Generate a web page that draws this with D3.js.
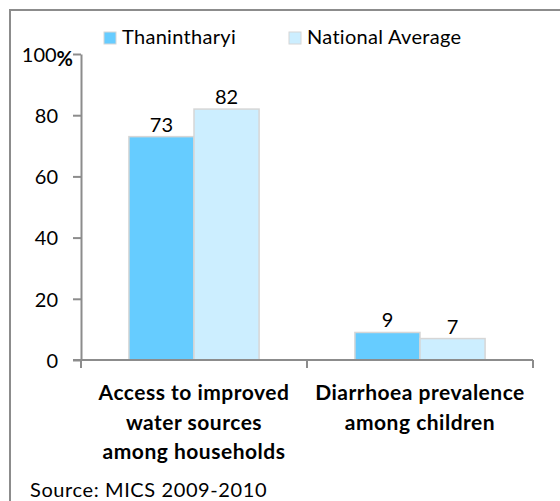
<!DOCTYPE html>
<html>
<head>
  <meta charset="UTF-8">
  <style>
    body {
        margin: 0;
        background: #fff;
        font-family: Lato, "Open Sans", sans-serif;
    }
    .axis path, .axis line {
        stroke: #8c8c8c;
        stroke-width: 2px;
    }
    .axis text {
        font-family: Lato, sans-serif;
        font-size: 20px;
        fill: #000;
    }
    .cat {
        font-size: 21px;
        font-weight: bold;
        letter-spacing: 0.5px;
    }
  </style>
</head>
<body>
<svg width="560" height="501"></svg>

<script src="https://d3js.org/d3.v7.min.js"></script>
<script>

// data
const categories = ["Access to improved water sources among households", "Diarrhoea prevalence among children"];
const catLines = [["Access to improved", "water sources", "among households"], ["Diarrhoea prevalence", "among children"]];
const seriesNames = ["Thanintharyi", "National Average"];
const thanintharyi = [73, 9];
const nationalAvg = [82, 7];
const yTicks = [0, 20, 40, 60, 80, 100];
const colors = ["#66ccff", "#cceeff"];

let margin = {left: 81, right: 27, top: 54, bottom: 141},
  width = 560 - margin.left - margin.right,
  height = 501 - margin.top - margin.bottom;

let svg = d3.select("svg");

// outer frame (runs off the right and bottom edge)
svg.append("rect")
  .attr("x", 10).attr("y", 10)
  .attr("width", 560).attr("height", 520)
  .attr("fill", "none")
  .attr("stroke", "#8c8c8c")
  .attr("stroke-width", 2);

let g = svg.append("g")
  .attr("transform", "translate(" + margin.left + "," + margin.top + ")");

let x0 = d3.scaleBand()
  .domain(categories)
  .range([0, width])
  .paddingInner(0.424)
  .paddingOuter(0.212);

let x1 = d3.scaleBand()
  .domain(seriesNames)
  .range([0, x0.bandwidth()]);

let y = d3.scaleLinear()
  .domain([0, 100])
  .range([height, 0]);

let rows = categories.map((c, i) => ({cat: c, vals: [thanintharyi[i], nationalAvg[i]]}));

// bars
let groups = g.selectAll(".grp")
  .data(rows)
  .join("g")
  .attr("transform", d => "translate(" + x0(d.cat) + ",0)");

groups.selectAll("rect")
  .data(d => d.vals.map((v, j) => ({name: seriesNames[j], v: v, j: j})))
  .join("rect")
    .attr("x", d => x1(d.name))
    .attr("y", d => y(d.v))
    .attr("width", x1.bandwidth())
    .attr("height", d => y(0) - y(d.v))
    .attr("fill", d => colors[d.j])
    .attr("stroke", "#d6d6d6")
    .attr("stroke-width", 1.5);

groups.selectAll("text")
  .data(d => d.vals.map((v, j) => ({name: seriesNames[j], v: v})))
  .join("text")
    .attr("x", d => x1(d.name) + x1.bandwidth() / 2)
    .attr("y", d => y(d.v) - 5)
    .attr("text-anchor", "middle")
    .attr("font-size", 20)
    .text(d => d.v);

// y axis
let yAxis = g.append("g")
  .attr("class", "axis")
  .call(d3.axisLeft(y).tickValues(yTicks).tickSize(8).tickSizeOuter(0).tickPadding(15));
yAxis.selectAll(".tick text").attr("dy", "0.36em");

// top label reads "100%" with a bold % tight against the number
yAxis.selectAll(".tick text")
  .filter(d => d === 100)
  .text("100")
  .attr("x", -9)
  .append("tspan")
    .attr("dy", "0.2em")
    .attr("font-weight", "bold")
    .attr("letter-spacing", -1)
    .text("%");

// x axis with ticks between categories
let xEdges = [0, width / 2, width];
let xAxis = g.append("g")
  .attr("class", "axis")
  .attr("transform", "translate(0," + height + ")");
xAxis.append("line")
  .attr("x1", -8).attr("x2", width)
  .attr("y1", 0).attr("y2", 0);
xAxis.selectAll(".xt")
  .data(xEdges)
  .join("line")
  .attr("x1", d => d).attr("x2", d => d)
  .attr("y1", 0).attr("y2", 8);

// category labels
g.selectAll(".cat")
  .data(categories)
  .join("text")
  .attr("class", "cat")
  .attr("text-anchor", "middle")
  .attr("transform", d => "translate(" + (x0(d) + x0.bandwidth() / 2) + "," + (height + 40) + ")")
  .selectAll("tspan")
    .data((d, i) => catLines[i])
    .join("tspan")
    .attr("x", 0)
    .attr("y", (d, i) => i * 29.5)
    .text(d => d);

// legend
let legend = svg.append("g")
  .selectAll("g")
  .data(seriesNames)
  .join("g")
  .attr("transform", (d, i) => "translate(" + [104, 289][i] + ",32)");
legend.append("rect")
  .attr("width", 12).attr("height", 12)
  .attr("fill", (d, i) => colors[i])
  .attr("stroke", "#d6d6d6");
legend.append("text")
  .attr("x", 18)
  .attr("y", 12)
  .attr("font-size", 20)
  .attr("letter-spacing", 0.3)
  .text(d => d);

// source note
svg.append("text")
  .attr("x", 30)
  .attr("y", 497)
  .attr("font-size", 20)
  .attr("letter-spacing", 0.6)
  .text("Source: MICS 2009-2010");

</script>
</body>
</html>
